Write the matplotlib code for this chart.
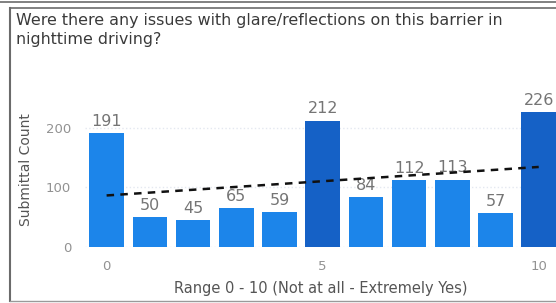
import numpy as np
import matplotlib.pyplot as plt
from matplotlib.lines import Line2D

# data
scores = list(range(11))
counts = [191, 50, 45, 65, 59, 212, 84, 112, 113, 57, 226]
highlight = [5, 10]
xticks = [0, 5, 10]
yticks = [0, 100, 200]

title = "Were there any issues with glare/reflections on this barrier in\nnighttime driving?"

W, H = 556, 303
fig = plt.figure(figsize=(W / 100, H / 100), dpi=100)

# card border
fig.add_artist(Line2D([0, 1], [1 - 2 / H, 1 - 2 / H], color="#6b6b6b", lw=1.2))
fig.add_artist(Line2D([10 / W, 1], [1 - 8 / H, 1 - 8 / H], color="#6b6b6b", lw=1.2))
fig.add_artist(Line2D([10 / W, 10 / W], [1 - 8 / H, 2 / H], color="#6b6b6b", lw=1.5))
fig.add_artist(Line2D([10 / W, 1], [2 / H, 2 / H], color="#9a9a9a", lw=1.0))

fig.text(16 / W, 1 - 13 / H, title, ha="left", va="top", fontsize=11.4,
         color="#3a3a3a", linespacing=1.3)

ax = fig.add_axes([85 / W, 56 / H, (W - 85) / W, 155 / H])

light = "#1c85ea"
dark = "#1561c6"
colors = [dark if s in highlight else light for s in scores]
bars = ax.bar(scores, counts, width=0.8, color=colors, zorder=2)

for b, v in zip(bars, counts):
    ax.annotate(str(v), (b.get_x() + b.get_width() / 2, v), xytext=(0, 3),
                textcoords="offset points", ha="center", va="bottom",
                fontsize=11.5, color="#757575", zorder=2.5)

# linear trend line
k, c = np.polyfit(scores, counts, 1)
tx = np.array([scores[0], scores[-1]])
ax.plot(tx, k * tx + c, color="#111111", lw=1.8, ls=(0, (3, 2.5)), zorder=3)

ax.set_xlim(-0.5, 10.4)
ax.set_ylim(0, 260)
ax.set_xticks(xticks)
ax.set_yticks(yticks)
ax.tick_params(length=0, labelsize=9.5, labelcolor="#929292")
ax.tick_params(axis="y", pad=10)
ax.tick_params(axis="x", pad=9)
ax.yaxis.grid(True, color="#e4e8f0", ls=":", lw=1, zorder=0)
for s in ax.spines.values():
    s.set_visible(False)

ax.set_xlabel("Range 0 - 10 (Not at all - Extremely Yes)", fontsize=10.5,
              color="#555555", labelpad=6)
ax.set_ylabel("Submittal Count", fontsize=10, color="#555555", labelpad=9)

fig.savefig("out.png", dpi=100)
